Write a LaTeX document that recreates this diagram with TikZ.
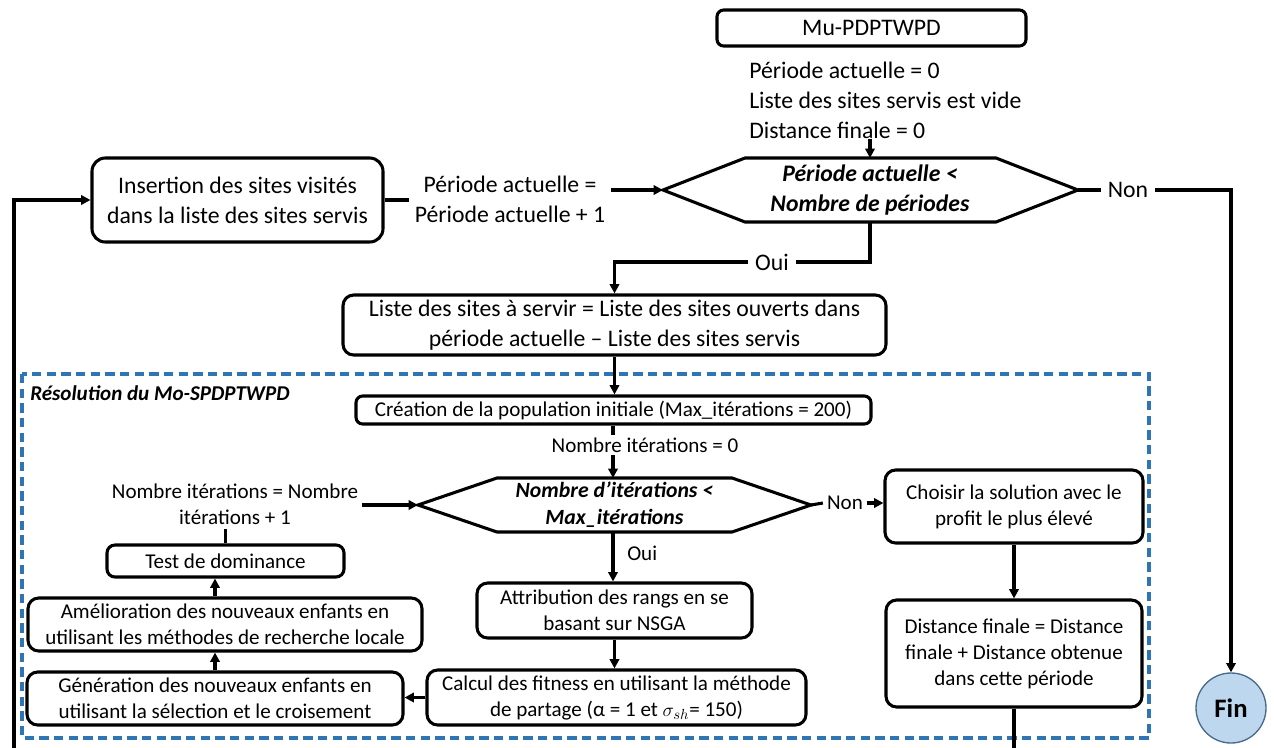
\documentclass[tikz,border=0pt]{standalone}
\usepackage{fontspec}
\setmainfont{Carlito}
\usetikzlibrary{arrows.meta}
\definecolor{framecol}{HTML}{2E75B6}
\definecolor{finfill}{HTML}{BDD7EE}
\definecolor{finborder}{HTML}{4A6A8A}
\newcommand\pxu[1]{#1*0.75pt}
\begin{document}
\begin{tikzpicture}[x=0.75pt,y=-0.75pt,
  box/.style={draw,line width=2.3pt,rounded corners=8pt,align=center,inner sep=0pt,fill=white},
  big/.style={font=\fontsize{17.8}{22.5}\selectfont},
  small/.style={font=\fontsize{15.8}{19.5}\selectfont},
  mid/.style={font=\fontsize{16.3}{20}\selectfont},
  conn/.style={line width=2.3pt},
  arr/.style={conn,-{Triangle[length=7pt,width=7pt]}},
  hexline/.style={line width=2.3pt,line join=miter}]
\useasboundingbox (0,0) rectangle (1274,747);
\clip (0,0) rectangle (1274,747);

% frame
\draw[framecol,line width=2.8pt,dash pattern=on 7pt off 4pt] (22,374) rectangle (1149,738);
\node[small,anchor=west,inner sep=0pt] (reso) at (30,393) {\textbf{\textit{Résolution du Mo-SPDPTWPD}}};

% top
\node[box,big,minimum width=\pxu{309},minimum height=\pxu{36},rounded corners=5pt] (mu) at (871.5,28) {Mu-PDPTWPD};
\node[big,align=left,anchor=west,inner sep=0pt] (init) at (749,100) {Période actuelle = 0\\Liste des sites servis est vide\\Distance finale = 0};

% hexagon 1
\coordinate (h1l) at (663,190);
\coordinate (h1r) at (1078,190);
\coordinate (h1t) at (870,158);
\coordinate (h1b) at (870,222);
\draw[hexline] (h1l) -- (745,158) -- (996,158) -- (h1r) -- (996,222) -- (745,222) -- cycle;
\node[big,align=center,inner sep=0pt] (h1) at (870,190) {\textbf{\textit{Période actuelle <}}\\\textbf{\textit{Nombre de périodes}}};
\draw[arr] (init.south -| h1t) -- (h1t);

\node[box,big,minimum width=\pxu{291},minimum height=\pxu{84},rounded corners=10pt] (ins) at (237.5,200) {Insertion des sites visités\\dans la liste des sites servis};
\node[big,align=center,inner sep=4pt] (lblp) at (510,199) {Période actuelle =\\Période actuelle + 1};
\draw[conn] (ins.east) -- (ins.east -| lblp.west);
\draw[arr] (lblp.east |- h1l) -- (h1l);

\node[big,inner sep=5pt] (non1) at (1128,190) {Non};
\node[circle,draw=finborder,fill=finfill,line width=1pt,minimum size=\pxu{70},inner sep=0pt,font=\fontsize{20}{24}\selectfont] (fin) at (1231,708) {\textbf{Fin}};
\draw[conn] (h1r) -- (non1.west);
\draw[arr] (non1.east) -| (fin.north);

\node[big,inner sep=5pt] (oui1) at (772,262) {Oui};
\node[box,big,minimum width=\pxu{543},minimum height=\pxu{60}] (list) at (614.5,325) {Liste des sites à servir = Liste des sites ouverts dans\\période actuelle – Liste des sites servis};
\draw[conn] (h1b) |- (oui1.east);
\draw[arr] (oui1.west) -| (list.north);

% inner part
\node[box,small,minimum width=\pxu{515},minimum height=\pxu{28},rounded corners=5pt] (crea) at (613.5,410) {Création de la population initiale (Max\_itérations = 200)};
\draw[arr] (list.south) -- (list.south |- crea.north);
\node[small,inner sep=2pt] (nit0) at (645,445) {Nombre itérations = 0};

% hexagon 2
\coordinate (h2l) at (418,505);
\coordinate (h2r) at (811,505);
\coordinate (h2t) at (613,478);
\coordinate (h2b) at (613,532);
\draw[hexline] (h2l) -- (497,478) -- (732,478) -- (h2r) -- (732,532) -- (497,532) -- cycle;
\node[mid,align=center,inner sep=0pt] (h2) at (614.5,505) {\textbf{\textit{Nombre d’itérations <}}\\\textbf{\textit{Max\_itérations}}};
\draw[conn] (crea.south -| h2t) -- (h2t |- nit0.north);
\draw[arr] (h2t |- nit0.south) -- (h2t);

\node[small,align=center,inner sep=3pt] (lbln) at (235,504) {Nombre itérations = Nombre\\itérations + 1};
\draw[arr] (lbln.east |- h2l) -- (h2l);
\node[box,small,minimum width=\pxu{237},minimum height=\pxu{32},rounded corners=6pt] (test) at (225.5,561) {Test de dominance};
\draw[conn] (test.north) -- (test.north |- lbln.south);

\node[small,inner sep=3pt] (non2) at (845,503) {Non};
\node[box,small,minimum width=\pxu{258},minimum height=\pxu{73}] (choi) at (1014,506.5) {Choisir la solution avec le\\profit le plus élevé};
\draw[conn] (h2r) -- (non2.west);
\draw[arr] (non2.east) -- (non2.east -| choi.west);

\node[box,small,minimum width=\pxu{256},minimum height=\pxu{107}] (dist) at (1014,653.5) {Distance finale = Distance\\finale + Distance obtenue\\dans cette période};
\draw[arr] (choi.south) -- (dist.north);

\node[small,anchor=west,inner sep=0pt] (oui2) at (627,553) {Oui};
\node[box,small,minimum width=\pxu{275},minimum height=\pxu{55}] (attr) at (614.5,610.5) {Attribution des rangs en se\\basant sur NSGA};
\draw[arr] (h2b) -- (h2b |- attr.north);

\node[box,small,minimum width=\pxu{379},minimum height=\pxu{55}] (calc) at (616.5,697.5) {Calcul des fitness en utilisant la méthode\\de partage (α = 1 et $\sigma_{sh}$= 150)};
\draw[arr] (attr.south) -- (attr.south |- calc.north);

\node[box,small,minimum width=\pxu{376},minimum height=\pxu{53}] (gen) at (215,698.5) {Génération des nouveaux enfants en\\utilisant la sélection et le croisement};
\draw[arr] (calc.west) -- (calc.west -| gen.east);

\node[box,small,minimum width=\pxu{394},minimum height=\pxu{53}] (ame) at (225,624.5) {Amélioration des nouveaux enfants en\\utilisant les méthodes de recherche locale};
\draw[arr] (gen.north) -- (gen.north |- ame.south);
\draw[arr] (gen.north |- ame.north) -- (gen.north |- test.south);

% loop back
\coordinate (lc) at (14,770);
\draw[arr] (dist.south) |- (lc) |- (ins.west);
\end{tikzpicture}
\end{document}
